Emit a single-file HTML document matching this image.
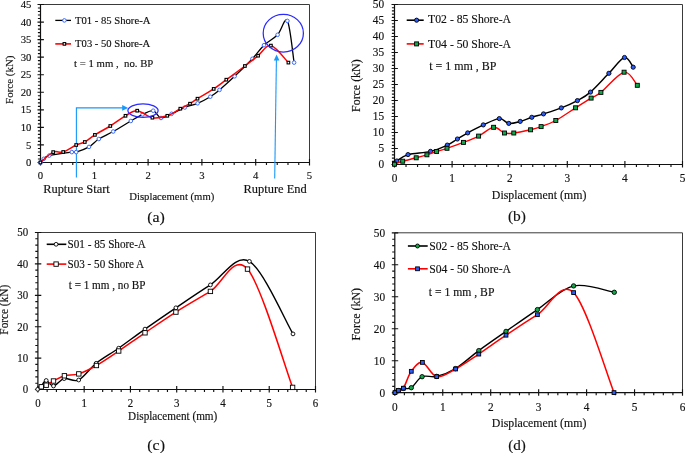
<!DOCTYPE html>
<html><head><meta charset="utf-8"><style>
html,body{margin:0;padding:0;background:#fff;}
body{width:685px;height:453px;overflow:hidden;}
svg{display:block;will-change:transform;}
text{font-family:"Liberation Serif", serif;fill:#111;stroke:#111;stroke-width:0.15px;}
</style></head><body>
<svg width="685" height="453" viewBox="0 0 685 453">
<rect width="685" height="453" fill="#fff"/>
<path d="M40.5,4.5 H309.5 V162.5" fill="none" stroke="#3a3a3a" stroke-width="1.0"/>
<path d="M40.5,4.5 V162.5 H309.5" fill="none" stroke="#111" stroke-width="1.2"/>
<path d="M37.5,162.5H43.9M37.9,158.99H40.5M37.9,155.48H40.5M37.9,151.97H40.5M37.9,148.46H40.5M37.5,144.94H43.9M37.9,141.43H40.5M37.9,137.92H40.5M37.9,134.41H40.5M37.9,130.9H40.5M37.5,127.39H43.9M37.9,123.88H40.5M37.9,120.37H40.5M37.9,116.86H40.5M37.9,113.34H40.5M37.5,109.83H43.9M37.9,106.32H40.5M37.9,102.81H40.5M37.9,99.3H40.5M37.9,95.79H40.5M37.5,92.28H43.9M37.9,88.77H40.5M37.9,85.26H40.5M37.9,81.74H40.5M37.9,78.23H40.5M37.5,74.72H43.9M37.9,71.21H40.5M37.9,67.7H40.5M37.9,64.19H40.5M37.9,60.68H40.5M37.5,57.17H43.9M37.9,53.66H40.5M37.9,50.14H40.5M37.9,46.63H40.5M37.9,43.12H40.5M37.5,39.61H43.9M37.9,36.1H40.5M37.9,32.59H40.5M37.9,29.08H40.5M37.9,25.57H40.5M37.5,22.06H43.9M37.9,18.54H40.5M37.9,15.03H40.5M37.9,11.52H40.5M37.9,8.01H40.5M37.5,4.5H43.9M40.5,159.1V165.5M51.26,162.5V165.1M62.02,162.5V165.1M72.78,162.5V165.1M83.54,162.5V165.1M94.3,159.1V165.5M105.06,162.5V165.1M115.82,162.5V165.1M126.58,162.5V165.1M137.34,162.5V165.1M148.1,159.1V165.5M158.86,162.5V165.1M169.62,162.5V165.1M180.38,162.5V165.1M191.14,162.5V165.1M201.9,159.1V165.5M212.66,162.5V165.1M223.42,162.5V165.1M234.18,162.5V165.1M244.94,162.5V165.1M255.7,159.1V165.5M266.46,162.5V165.1M277.22,162.5V165.1M287.98,162.5V165.1M298.74,162.5V165.1M309.5,159.1V165.5" stroke="#111" stroke-width="1.15" fill="none"/>
<text transform="translate(31.4,166.08) scale(1,1.06)" font-size="10.7" text-anchor="end">0</text>
<text transform="translate(31.4,148.52) scale(1,1.06)" font-size="10.7" text-anchor="end">5</text>
<text transform="translate(31.4,130.97) scale(1,1.06)" font-size="10.7" text-anchor="end">10</text>
<text transform="translate(31.4,113.41) scale(1,1.06)" font-size="10.7" text-anchor="end">15</text>
<text transform="translate(31.4,95.85) scale(1,1.06)" font-size="10.7" text-anchor="end">20</text>
<text transform="translate(31.4,78.3) scale(1,1.06)" font-size="10.7" text-anchor="end">25</text>
<text transform="translate(31.4,60.74) scale(1,1.06)" font-size="10.7" text-anchor="end">30</text>
<text transform="translate(31.4,43.19) scale(1,1.06)" font-size="10.7" text-anchor="end">35</text>
<text transform="translate(31.4,25.63) scale(1,1.06)" font-size="10.7" text-anchor="end">40</text>
<text transform="translate(31.4,8.08) scale(1,1.06)" font-size="10.7" text-anchor="end">45</text>
<text transform="translate(40.5,178.58) scale(1,1.06)" font-size="10.7" text-anchor="middle">0</text>
<text transform="translate(94.3,178.58) scale(1,1.06)" font-size="10.7" text-anchor="middle">1</text>
<text transform="translate(148.1,178.58) scale(1,1.06)" font-size="10.7" text-anchor="middle">2</text>
<text transform="translate(201.9,178.58) scale(1,1.06)" font-size="10.7" text-anchor="middle">3</text>
<text transform="translate(255.7,178.58) scale(1,1.06)" font-size="10.7" text-anchor="middle">4</text>
<text transform="translate(309.5,178.58) scale(1,1.06)" font-size="10.7" text-anchor="middle">5</text>
<text transform="translate(129.29,199.8) scale(1,1)" font-size="10.66">Displacement (mm)</text>
<text transform="translate(13.4,103.92) rotate(-90) scale(1,1)" font-size="10.96">Force (kN)</text>
<text transform="translate(147.2,221.5) scale(1,0.93)" font-size="15.95">(a)</text>
<text transform="translate(43.14,193.4) scale(1,1)" font-size="12.45">Rupture Start</text>
<text transform="translate(243.54,193.4) scale(1,1)" font-size="12.44">Rupture End</text>
<path d="M76.4,177.6 V107.9 H123" fill="none" stroke="#1898FA" stroke-width="1.1"/>
<path d="M128.2,107.9 L122.2,105.1 L122.2,110.7 Z" fill="#1898FA"/>
<path d="M274.7,178.4 L276.4,60" fill="none" stroke="#1898FA" stroke-width="1.1"/>
<path d="M276.6,54.5 L273.8,60.4 L279.4,60.4 Z" fill="#1898FA"/>
<path d="M40.4,162.5 C40.97,161.88 42.33,159.95 43.8,158.8 C45.27,157.65 44.53,156.72 49.2,155.6 C53.87,154.48 67.3,152.68 71.8,152.1 C76.3,151.52 73.33,152.97 76.2,152.1 C79.07,151.23 85.23,149.08 89,146.9 C92.77,144.72 94.77,141.57 98.8,139 C102.83,136.43 107.87,134.5 113.2,131.5 C118.53,128.5 125.88,123.85 130.8,121 C135.72,118.15 138.97,116.12 142.7,114.4 C146.43,112.68 150.15,110.1 153.2,110.7 C156.25,111.3 157.93,117.48 161,118 C164.07,118.52 167.63,115.55 171.6,113.8 C175.57,112.05 180.47,109.25 184.8,107.5 C189.13,105.75 193.35,105.1 197.6,103.3 C201.85,101.5 206.65,98.93 210.3,96.7 C213.95,94.47 215.45,93.3 219.5,89.9 C223.55,86.5 229.12,81.48 234.6,76.3 C240.08,71.12 247.5,63.98 252.4,58.8 C257.3,53.62 259.8,49.2 264,45.2 C268.2,41.2 273.7,38.85 277.6,34.8 C281.5,30.75 284.65,16.27 287.4,20.9 C290.15,25.53 292.98,55.65 294.1,62.6" fill="none" stroke="#000" stroke-width="1.3" stroke-linejoin="round"/>
<g fill="#fff" stroke="#3A6BFF" stroke-width="1"><circle cx="40.4" cy="162.5" r="1.8"/><circle cx="43.8" cy="158.8" r="1.8"/><circle cx="49.2" cy="155.6" r="1.8"/><circle cx="71.8" cy="152.1" r="1.8"/><circle cx="76.2" cy="152.1" r="1.8"/><circle cx="89" cy="146.9" r="1.8"/><circle cx="98.8" cy="139" r="1.8"/><circle cx="113.2" cy="131.5" r="1.8"/><circle cx="130.8" cy="121" r="1.8"/><circle cx="142.7" cy="114.4" r="1.8"/><circle cx="153.2" cy="110.7" r="1.8"/><circle cx="161" cy="118" r="1.8"/><circle cx="171.6" cy="113.8" r="1.8"/><circle cx="184.8" cy="107.5" r="1.8"/><circle cx="197.6" cy="103.3" r="1.8"/><circle cx="210.3" cy="96.7" r="1.8"/><circle cx="219.5" cy="89.9" r="1.8"/><circle cx="234.6" cy="76.3" r="1.8"/><circle cx="252.4" cy="58.8" r="1.8"/><circle cx="264" cy="45.2" r="1.8"/><circle cx="277.6" cy="34.8" r="1.8"/><circle cx="287.4" cy="20.9" r="1.8"/><circle cx="294.1" cy="62.6" r="1.8"/></g>
<path d="M40.4,162.5 C42.53,160.77 49.4,153.85 53.2,152.1 C57,150.35 59.37,153.18 63.2,152 C67.03,150.82 72.6,146.67 76.2,145 C79.8,143.33 81.68,143.68 84.8,142 C87.92,140.32 90.65,137.57 94.9,134.9 C99.15,132.23 105.2,129.18 110.3,126 C115.4,122.82 121.02,118.35 125.5,115.8 C129.98,113.25 132.72,110.38 137.2,110.7 C141.68,111.02 147.38,116.85 152.4,117.7 C157.42,118.55 162.65,117.3 167.3,115.8 C171.95,114.3 176.52,110.72 180.3,108.7 C184.08,106.68 187.13,105.37 190,103.7 C192.87,102.03 193.55,101.17 197.5,98.7 C201.45,96.23 208.9,92.07 213.7,88.9 C218.5,85.73 221.1,83.52 226.3,79.7 C231.5,75.88 239.6,70 244.9,66 C250.2,62 253.77,59.1 258.1,55.7 C262.43,52.3 265.85,44.45 270.9,45.6 C275.95,46.75 285.48,59.77 288.4,62.6" fill="none" stroke="#FF0000" stroke-width="1.5" stroke-linejoin="round"/>
<g fill="#fff" stroke="#000" stroke-width="1.1"><rect x="39.1" y="161.2" width="2.6" height="2.6"/><rect x="51.9" y="150.8" width="2.6" height="2.6"/><rect x="61.9" y="150.7" width="2.6" height="2.6"/><rect x="74.9" y="143.7" width="2.6" height="2.6"/><rect x="83.5" y="140.7" width="2.6" height="2.6"/><rect x="93.6" y="133.6" width="2.6" height="2.6"/><rect x="109" y="124.7" width="2.6" height="2.6"/><rect x="124.2" y="114.5" width="2.6" height="2.6"/><rect x="135.9" y="109.4" width="2.6" height="2.6"/><rect x="151.1" y="116.4" width="2.6" height="2.6"/><rect x="166" y="114.5" width="2.6" height="2.6"/><rect x="179" y="107.4" width="2.6" height="2.6"/><rect x="188.7" y="102.4" width="2.6" height="2.6"/><rect x="196.2" y="97.4" width="2.6" height="2.6"/><rect x="212.4" y="87.6" width="2.6" height="2.6"/><rect x="225" y="78.4" width="2.6" height="2.6"/><rect x="243.6" y="64.7" width="2.6" height="2.6"/><rect x="256.8" y="54.4" width="2.6" height="2.6"/><rect x="269.6" y="44.3" width="2.6" height="2.6"/><rect x="287.1" y="61.3" width="2.6" height="2.6"/></g>
<ellipse cx="143" cy="110.6" rx="15.1" ry="6.7" fill="none" stroke="#2A2AFF" stroke-width="1.25"/>
<ellipse cx="283.3" cy="33.2" rx="20.1" ry="18.9" fill="none" stroke="#2A2AFF" stroke-width="1.25"/>
<path d="M55.3,20.4H71" stroke="#000" stroke-width="1.3"/>
<g fill="#fff" stroke="#3A6BFF" stroke-width="1"><circle cx="64.4" cy="20.4" r="1.8"/></g>
<text transform="translate(74.91,23.9) scale(1,1)" font-size="10.66">T01 - 85 Shore-A</text>
<path d="M55.3,43.9H71" stroke="#FF0000" stroke-width="1.6"/>
<g fill="#fff" stroke="#000" stroke-width="1.1"><rect x="63.1" y="42.6" width="2.6" height="2.6"/></g>
<text transform="translate(75.11,47.3) scale(1,1)" font-size="10.6">T03 - 50 Shore-A</text>
<text transform="translate(74.09,66.8) scale(1,1)" font-size="10.76">t = 1 mm ,&#160; no. BP</text>
<path d="M394.5,4.5 H682.5 V164.5" fill="none" stroke="#3a3a3a" stroke-width="1.0"/>
<path d="M394.5,4.5 V164.5 H682.5" fill="none" stroke="#111" stroke-width="1.2"/>
<path d="M391.5,164.5H397.9M391.9,161.3H394.5M391.9,158.1H394.5M391.9,154.9H394.5M391.9,151.7H394.5M391.5,148.5H397.9M391.9,145.3H394.5M391.9,142.1H394.5M391.9,138.9H394.5M391.9,135.7H394.5M391.5,132.5H397.9M391.9,129.3H394.5M391.9,126.1H394.5M391.9,122.9H394.5M391.9,119.7H394.5M391.5,116.5H397.9M391.9,113.3H394.5M391.9,110.1H394.5M391.9,106.9H394.5M391.9,103.7H394.5M391.5,100.5H397.9M391.9,97.3H394.5M391.9,94.1H394.5M391.9,90.9H394.5M391.9,87.7H394.5M391.5,84.5H397.9M391.9,81.3H394.5M391.9,78.1H394.5M391.9,74.9H394.5M391.9,71.7H394.5M391.5,68.5H397.9M391.9,65.3H394.5M391.9,62.1H394.5M391.9,58.9H394.5M391.9,55.7H394.5M391.5,52.5H397.9M391.9,49.3H394.5M391.9,46.1H394.5M391.9,42.9H394.5M391.9,39.7H394.5M391.5,36.5H397.9M391.9,33.3H394.5M391.9,30.1H394.5M391.9,26.9H394.5M391.9,23.7H394.5M391.5,20.5H397.9M391.9,17.3H394.5M391.9,14.1H394.5M391.9,10.9H394.5M391.9,7.7H394.5M391.5,4.5H397.9M394.5,161.1V167.5M406.02,164.5V167.1M417.54,164.5V167.1M429.06,164.5V167.1M440.58,164.5V167.1M452.1,161.1V167.5M463.62,164.5V167.1M475.14,164.5V167.1M486.66,164.5V167.1M498.18,164.5V167.1M509.7,161.1V167.5M521.22,164.5V167.1M532.74,164.5V167.1M544.26,164.5V167.1M555.78,164.5V167.1M567.3,161.1V167.5M578.82,164.5V167.1M590.34,164.5V167.1M601.86,164.5V167.1M613.38,164.5V167.1M624.9,161.1V167.5M636.42,164.5V167.1M647.94,164.5V167.1M659.46,164.5V167.1M670.98,164.5V167.1M682.5,161.1V167.5" stroke="#111" stroke-width="1.15" fill="none"/>
<text transform="translate(384.1,168.36) scale(1,1.08)" font-size="11.3" text-anchor="end">0</text>
<text transform="translate(384.1,152.36) scale(1,1.08)" font-size="11.3" text-anchor="end">5</text>
<text transform="translate(384.1,136.36) scale(1,1.08)" font-size="11.3" text-anchor="end">10</text>
<text transform="translate(384.1,120.36) scale(1,1.08)" font-size="11.3" text-anchor="end">15</text>
<text transform="translate(384.1,104.36) scale(1,1.08)" font-size="11.3" text-anchor="end">20</text>
<text transform="translate(384.1,88.36) scale(1,1.08)" font-size="11.3" text-anchor="end">25</text>
<text transform="translate(384.1,72.36) scale(1,1.08)" font-size="11.3" text-anchor="end">30</text>
<text transform="translate(384.1,56.36) scale(1,1.08)" font-size="11.3" text-anchor="end">35</text>
<text transform="translate(384.1,40.36) scale(1,1.08)" font-size="11.3" text-anchor="end">40</text>
<text transform="translate(384.1,24.36) scale(1,1.08)" font-size="11.3" text-anchor="end">45</text>
<text transform="translate(384.1,8.36) scale(1,1.08)" font-size="11.3" text-anchor="end">50</text>
<text transform="translate(394.5,182.06) scale(1,1.08)" font-size="11.3" text-anchor="middle">0</text>
<text transform="translate(452.1,182.06) scale(1,1.08)" font-size="11.3" text-anchor="middle">1</text>
<text transform="translate(509.7,182.06) scale(1,1.08)" font-size="11.3" text-anchor="middle">2</text>
<text transform="translate(567.3,182.06) scale(1,1.08)" font-size="11.3" text-anchor="middle">3</text>
<text transform="translate(624.9,182.06) scale(1,1.08)" font-size="11.3" text-anchor="middle">4</text>
<text transform="translate(682.5,182.06) scale(1,1.08)" font-size="11.3" text-anchor="middle">5</text>
<text transform="translate(491.86,198.8) scale(1,1.04)" font-size="11.87">Displacement (mm)</text>
<text transform="translate(359.6,111.94) rotate(-90) scale(1,1.04)" font-size="11.91">Force (kN)</text>
<text transform="translate(507.92,221.1) scale(1,0.93)" font-size="15.49">(b)</text>
<path d="M394.5,164.2 C394.9,163.67 394.65,162.6 396.9,161 C399.15,159.4 402.4,156.2 408,154.6 C413.6,153 423.95,152.98 430.5,151.4 C437.05,149.82 442.82,147.17 447.3,145.1 C451.78,143.03 454,141.03 457.4,139 C460.8,136.97 463.38,135.25 467.7,132.9 C472.02,130.55 478.03,127.28 483.3,124.9 C488.57,122.52 495.05,118.85 499.3,118.6 C503.55,118.35 505.32,122.93 508.8,123.4 C512.28,123.87 516.37,122.42 520.2,121.4 C524.03,120.38 527.92,118.55 531.8,117.3 C535.68,116.05 538.58,115.47 543.5,113.9 C548.42,112.33 555.65,110.12 561.3,107.9 C566.95,105.68 572.53,103.23 577.4,100.6 C582.27,97.97 585.25,96.65 590.5,92.1 C595.75,87.55 603.23,79.07 608.9,73.3 C614.57,67.53 620.45,58.52 624.5,57.5 C628.55,56.48 631.75,65.58 633.2,67.2" fill="none" stroke="#000" stroke-width="1.45" stroke-linejoin="round"/>
<g fill="#2A5CFF" stroke="#000" stroke-width="0.9"><circle cx="394.5" cy="164.2" r="2.1"/><circle cx="396.9" cy="161" r="2.1"/><circle cx="408" cy="154.6" r="2.1"/><circle cx="430.5" cy="151.4" r="2.1"/><circle cx="447.3" cy="145.1" r="2.1"/><circle cx="457.4" cy="139" r="2.1"/><circle cx="467.7" cy="132.9" r="2.1"/><circle cx="483.3" cy="124.9" r="2.1"/><circle cx="499.3" cy="118.6" r="2.1"/><circle cx="508.8" cy="123.4" r="2.1"/><circle cx="520.2" cy="121.4" r="2.1"/><circle cx="531.8" cy="117.3" r="2.1"/><circle cx="543.5" cy="113.9" r="2.1"/><circle cx="561.3" cy="107.9" r="2.1"/><circle cx="577.4" cy="100.6" r="2.1"/><circle cx="590.5" cy="92.1" r="2.1"/><circle cx="608.9" cy="73.3" r="2.1"/><circle cx="624.5" cy="57.5" r="2.1"/><circle cx="633.2" cy="67.2" r="2.1"/></g>
<path d="M394.5,164.2 C395.87,163.7 399.08,162.27 402.7,161.2 C406.32,160.13 412.17,158.87 416.2,157.8 C420.23,156.73 423.5,155.85 426.9,154.8 C430.3,153.75 433.25,152.58 436.6,151.5 C439.95,150.42 442.52,149.82 447,148.3 C451.48,146.78 458.23,144.43 463.5,142.4 C468.77,140.37 473.58,138.62 478.6,136.1 C483.62,133.58 489.28,127.82 493.6,127.3 C497.92,126.78 501.13,132.05 504.5,133 C507.87,133.95 509.45,133.53 513.8,133 C518.15,132.47 526.05,130.87 530.6,129.8 C535.15,128.73 536.9,128.15 541.1,126.6 C545.3,125.05 550.05,123.63 555.8,120.5 C561.55,117.37 569.72,111.53 575.6,107.8 C581.48,104.07 586.88,100.67 591.1,98.1 C595.32,95.53 595.4,96.72 600.9,92.4 C606.4,88.08 618.03,73.38 624.1,72.2 C630.17,71.02 635.1,83.12 637.3,85.3" fill="none" stroke="#FF0000" stroke-width="1.4" stroke-linejoin="round"/>
<g fill="#0DAA48" stroke="#000" stroke-width="0.9"><rect x="392.5" y="162.2" width="4" height="4"/><rect x="400.7" y="159.2" width="4" height="4"/><rect x="414.2" y="155.8" width="4" height="4"/><rect x="424.9" y="152.8" width="4" height="4"/><rect x="434.6" y="149.5" width="4" height="4"/><rect x="445" y="146.3" width="4" height="4"/><rect x="461.5" y="140.4" width="4" height="4"/><rect x="476.6" y="134.1" width="4" height="4"/><rect x="491.6" y="125.3" width="4" height="4"/><rect x="502.5" y="131" width="4" height="4"/><rect x="511.8" y="131" width="4" height="4"/><rect x="528.6" y="127.8" width="4" height="4"/><rect x="539.1" y="124.6" width="4" height="4"/><rect x="553.8" y="118.5" width="4" height="4"/><rect x="573.6" y="105.8" width="4" height="4"/><rect x="589.1" y="96.1" width="4" height="4"/><rect x="598.9" y="90.4" width="4" height="4"/><rect x="622.1" y="70.2" width="4" height="4"/><rect x="635.3" y="83.3" width="4" height="4"/></g>
<path d="M406.7,20.2H423.7" stroke="#000" stroke-width="1.6"/>
<g fill="#2A5CFF" stroke="#000" stroke-width="0.9"><circle cx="416.6" cy="20.2" r="2.1"/></g>
<text transform="translate(428.09,23.4) scale(1,1.04)" font-size="11.73">T02 - 85 Shore-A</text>
<path d="M406.7,43.9H423.7" stroke="#FF0000" stroke-width="1.6"/>
<g fill="#0DAA48" stroke="#000" stroke-width="0.9"><rect x="414.6" y="41.9" width="4" height="4"/></g>
<text transform="translate(428.09,47.8) scale(1,1.04)" font-size="11.73">T04 - 50 Shore-A</text>
<text transform="translate(429.18,70) scale(1,1.04)" font-size="11.97">t = 1 mm , BP</text>
<path d="M37.9,232.5 H315.5 V389.5" fill="none" stroke="#3a3a3a" stroke-width="1.0"/>
<path d="M37.9,232.5 V389.5 H315.5" fill="none" stroke="#111" stroke-width="1.2"/>
<path d="M34.9,389.5H41.3M35.3,383.22H37.9M35.3,376.94H37.9M35.3,370.66H37.9M35.3,364.38H37.9M34.9,358.1H41.3M35.3,351.82H37.9M35.3,345.54H37.9M35.3,339.26H37.9M35.3,332.98H37.9M34.9,326.7H41.3M35.3,320.42H37.9M35.3,314.14H37.9M35.3,307.86H37.9M35.3,301.58H37.9M34.9,295.3H41.3M35.3,289.02H37.9M35.3,282.74H37.9M35.3,276.46H37.9M35.3,270.18H37.9M34.9,263.9H41.3M35.3,257.62H37.9M35.3,251.34H37.9M35.3,245.06H37.9M35.3,238.78H37.9M34.9,232.5H41.3M37.9,386.1V392.5M47.15,389.5V392.1M56.41,389.5V392.1M65.66,389.5V392.1M74.91,389.5V392.1M84.17,386.1V392.5M93.42,389.5V392.1M102.67,389.5V392.1M111.93,389.5V392.1M121.18,389.5V392.1M130.43,386.1V392.5M139.69,389.5V392.1M148.94,389.5V392.1M158.19,389.5V392.1M167.45,389.5V392.1M176.7,386.1V392.5M185.95,389.5V392.1M195.21,389.5V392.1M204.46,389.5V392.1M213.71,389.5V392.1M222.97,386.1V392.5M232.22,389.5V392.1M241.47,389.5V392.1M250.73,389.5V392.1M259.98,389.5V392.1M269.23,386.1V392.5M278.49,389.5V392.1M287.74,389.5V392.1M296.99,389.5V392.1M306.25,389.5V392.1M315.5,386.1V392.5" stroke="#111" stroke-width="1.15" fill="none"/>
<text transform="translate(28.1,393.37) scale(1,1.12)" font-size="10.9" text-anchor="end">0</text>
<text transform="translate(28.1,361.97) scale(1,1.12)" font-size="10.9" text-anchor="end">10</text>
<text transform="translate(28.1,330.57) scale(1,1.12)" font-size="10.9" text-anchor="end">20</text>
<text transform="translate(28.1,299.17) scale(1,1.12)" font-size="10.9" text-anchor="end">30</text>
<text transform="translate(28.1,267.77) scale(1,1.12)" font-size="10.9" text-anchor="end">40</text>
<text transform="translate(28.1,236.37) scale(1,1.12)" font-size="10.9" text-anchor="end">50</text>
<text transform="translate(37.9,406.67) scale(1,1.12)" font-size="10.9" text-anchor="middle">0</text>
<text transform="translate(84.17,406.67) scale(1,1.12)" font-size="10.9" text-anchor="middle">1</text>
<text transform="translate(130.43,406.67) scale(1,1.12)" font-size="10.9" text-anchor="middle">2</text>
<text transform="translate(176.7,406.67) scale(1,1.12)" font-size="10.9" text-anchor="middle">3</text>
<text transform="translate(222.97,406.67) scale(1,1.12)" font-size="10.9" text-anchor="middle">4</text>
<text transform="translate(269.23,406.67) scale(1,1.12)" font-size="10.9" text-anchor="middle">5</text>
<text transform="translate(315.5,406.67) scale(1,1.12)" font-size="10.9" text-anchor="middle">6</text>
<text transform="translate(128.08,420.1) scale(1,1.04)" font-size="11.21">Displacement (mm)</text>
<text transform="translate(8,334.63) rotate(-90) scale(1,1.04)" font-size="11.28">Force (kN)</text>
<text transform="translate(147.3,450) scale(1,0.93)" font-size="15.95">(c)</text>
<path d="M37.7,389.3 C38.25,388.83 39.58,387.97 41,386.5 C42.42,385.03 44.12,380.58 46.2,380.5 C48.28,380.42 50.5,386.32 53.5,386 C56.5,385.68 60,379.6 64.2,378.6 C68.4,377.6 73.37,382.55 78.7,380 C84.03,377.45 89.53,368.6 96.2,363.3 C102.87,358 110.57,353.9 118.7,348.2 C126.83,342.5 135.47,335.83 145,329.1 C154.53,322.37 165,315.17 175.9,307.8 C186.8,300.43 198.15,292.63 210.4,284.9 C222.65,277.17 235.63,253.23 249.4,261.4 C263.17,269.57 285.73,321.82 293,333.9" fill="none" stroke="#000" stroke-width="1.4" stroke-linejoin="round"/>
<g fill="#fff" stroke="#000" stroke-width="0.9"><circle cx="37.7" cy="389.3" r="1.9"/><circle cx="41" cy="386.5" r="1.9"/><circle cx="46.2" cy="380.5" r="1.9"/><circle cx="53.5" cy="386" r="1.9"/><circle cx="64.2" cy="378.6" r="1.9"/><circle cx="78.7" cy="380" r="1.9"/><circle cx="96.2" cy="363.3" r="1.9"/><circle cx="118.7" cy="348.2" r="1.9"/><circle cx="145" cy="329.1" r="1.9"/><circle cx="175.9" cy="307.8" r="1.9"/><circle cx="210.4" cy="284.9" r="1.9"/><circle cx="249.4" cy="261.4" r="1.9"/><circle cx="293" cy="333.9" r="1.9"/></g>
<path d="M41.3,386.8 C42.12,386.53 44.17,386.17 46.2,385.2 C48.23,384.23 50.47,382.57 53.5,381 C56.53,379.43 60.18,376.98 64.4,375.8 C68.62,374.62 73.47,375.62 78.8,373.9 C84.13,372.18 89.75,369.32 96.4,365.5 C103.05,361.68 110.6,356.45 118.7,351 C126.8,345.55 135.47,339.28 145,332.8 C154.53,326.32 165,319 175.9,312.1 C186.8,305.2 198.47,298.57 210.4,291.4 C222.33,284.23 233.8,253.1 247.5,269.1 C261.2,285.1 285.08,367.68 292.6,387.4" fill="none" stroke="#FF0000" stroke-width="1.5" stroke-linejoin="round"/>
<g fill="#fff" stroke="#000" stroke-width="0.9"><rect x="39.1" y="384.6" width="4.4" height="4.4"/><rect x="44" y="383" width="4.4" height="4.4"/><rect x="51.3" y="378.8" width="4.4" height="4.4"/><rect x="62.2" y="373.6" width="4.4" height="4.4"/><rect x="76.6" y="371.7" width="4.4" height="4.4"/><rect x="94.2" y="363.3" width="4.4" height="4.4"/><rect x="116.5" y="348.8" width="4.4" height="4.4"/><rect x="142.8" y="330.6" width="4.4" height="4.4"/><rect x="173.7" y="309.9" width="4.4" height="4.4"/><rect x="208.2" y="289.2" width="4.4" height="4.4"/><rect x="245.3" y="266.9" width="4.4" height="4.4"/><rect x="290.4" y="385.2" width="4.4" height="4.4"/></g>
<path d="M46.7,244.3H66.3" stroke="#000" stroke-width="1.6"/>
<g fill="#fff" stroke="#000" stroke-width="0.9"><circle cx="56.1" cy="244.3" r="1.9"/></g>
<text transform="translate(67.55,248.2) scale(1,1.04)" font-size="11.16">S01 - 85 Shore-A</text>
<path d="M46.7,264.1H66.3" stroke="#FF0000" stroke-width="1.6"/>
<g fill="#fff" stroke="#000" stroke-width="0.9"><rect x="53.9" y="261.9" width="4.4" height="4.4"/></g>
<text transform="translate(67.56,268.2) scale(1,1.04)" font-size="11.11">S03 - 50 Shore A</text>
<text transform="translate(68.79,289.1) scale(1,1.04)" font-size="11.17">t = 1 mm , no BP</text>
<path d="M394.8,232.8 H682.5 V392.7" fill="none" stroke="#3a3a3a" stroke-width="1.0"/>
<path d="M394.8,232.8 V392.7 H682.5" fill="none" stroke="#111" stroke-width="1.2"/>
<path d="M391.8,392.7H398.2M392.2,386.3H394.8M392.2,379.91H394.8M392.2,373.51H394.8M392.2,367.12H394.8M391.8,360.72H398.2M392.2,354.32H394.8M392.2,347.93H394.8M392.2,341.53H394.8M392.2,335.14H394.8M391.8,328.74H398.2M392.2,322.34H394.8M392.2,315.95H394.8M392.2,309.55H394.8M392.2,303.16H394.8M391.8,296.76H398.2M392.2,290.36H394.8M392.2,283.97H394.8M392.2,277.57H394.8M392.2,271.18H394.8M391.8,264.78H398.2M392.2,258.38H394.8M392.2,251.99H394.8M392.2,245.59H394.8M392.2,239.2H394.8M391.8,232.8H398.2M394.8,389.3V395.7M404.39,392.7V395.3M413.98,392.7V395.3M423.57,392.7V395.3M433.16,392.7V395.3M442.75,389.3V395.7M452.34,392.7V395.3M461.93,392.7V395.3M471.52,392.7V395.3M481.11,392.7V395.3M490.7,389.3V395.7M500.29,392.7V395.3M509.88,392.7V395.3M519.47,392.7V395.3M529.06,392.7V395.3M538.65,389.3V395.7M548.24,392.7V395.3M557.83,392.7V395.3M567.42,392.7V395.3M577.01,392.7V395.3M586.6,389.3V395.7M596.19,392.7V395.3M605.78,392.7V395.3M615.37,392.7V395.3M624.96,392.7V395.3M634.55,389.3V395.7M644.14,392.7V395.3M653.73,392.7V395.3M663.32,392.7V395.3M672.91,392.7V395.3M682.5,389.3V395.7" stroke="#111" stroke-width="1.15" fill="none"/>
<text transform="translate(385.1,396.56) scale(1,1.08)" font-size="11.3" text-anchor="end">0</text>
<text transform="translate(385.1,364.58) scale(1,1.08)" font-size="11.3" text-anchor="end">10</text>
<text transform="translate(385.1,332.6) scale(1,1.08)" font-size="11.3" text-anchor="end">20</text>
<text transform="translate(385.1,300.62) scale(1,1.08)" font-size="11.3" text-anchor="end">30</text>
<text transform="translate(385.1,268.64) scale(1,1.08)" font-size="11.3" text-anchor="end">40</text>
<text transform="translate(385.1,236.66) scale(1,1.08)" font-size="11.3" text-anchor="end">50</text>
<text transform="translate(394.8,410.56) scale(1,1.08)" font-size="11.3" text-anchor="middle">0</text>
<text transform="translate(442.75,410.56) scale(1,1.08)" font-size="11.3" text-anchor="middle">1</text>
<text transform="translate(490.7,410.56) scale(1,1.08)" font-size="11.3" text-anchor="middle">2</text>
<text transform="translate(538.65,410.56) scale(1,1.08)" font-size="11.3" text-anchor="middle">3</text>
<text transform="translate(586.6,410.56) scale(1,1.08)" font-size="11.3" text-anchor="middle">4</text>
<text transform="translate(634.55,410.56) scale(1,1.08)" font-size="11.3" text-anchor="middle">5</text>
<text transform="translate(682.5,410.56) scale(1,1.08)" font-size="11.3" text-anchor="middle">6</text>
<text transform="translate(491.86,427.3) scale(1,1.04)" font-size="11.87">Displacement (mm)</text>
<text transform="translate(360.1,340.54) rotate(-90) scale(1,1.04)" font-size="11.91">Force (kN)</text>
<text transform="translate(508.14,450) scale(1,0.93)" font-size="15.12">(d)</text>
<path d="M395,392.6 C395.57,392.27 397,391.3 398.4,390.6 C399.8,389.9 401.25,388.88 403.4,388.4 C405.55,387.92 408.18,389.65 411.3,387.7 C414.42,385.75 417.87,378.58 422.1,376.7 C426.33,374.82 431.12,377.75 436.7,376.4 C442.28,375.05 448.58,372.9 455.6,368.6 C462.62,364.3 470.4,356.8 478.8,350.6 C487.2,344.4 496.23,338.23 506,331.4 C515.77,324.57 526.13,317.18 537.4,309.6 C548.67,302.02 560.78,288.78 573.6,285.9 C586.42,283.02 607.52,291.23 614.3,292.3" fill="none" stroke="#000" stroke-width="1.4" stroke-linejoin="round"/>
<g fill="#0DAA48" stroke="#000" stroke-width="0.9"><circle cx="395" cy="392.6" r="2.2"/><circle cx="398.4" cy="390.6" r="2.2"/><circle cx="403.4" cy="388.4" r="2.2"/><circle cx="411.3" cy="387.7" r="2.2"/><circle cx="422.1" cy="376.7" r="2.2"/><circle cx="436.7" cy="376.4" r="2.2"/><circle cx="455.6" cy="368.6" r="2.2"/><circle cx="478.8" cy="350.6" r="2.2"/><circle cx="506" cy="331.4" r="2.2"/><circle cx="537.4" cy="309.6" r="2.2"/><circle cx="573.6" cy="285.9" r="2.2"/><circle cx="614.3" cy="292.3" r="2.2"/></g>
<path d="M395,392.6 C395.57,392.23 397,391.13 398.4,390.4 C399.8,389.67 401.25,391.38 403.4,388.2 C405.55,385.02 408.13,375.6 411.3,371.3 C414.47,367 418.17,361.52 422.4,362.4 C426.63,363.28 431.17,375.5 436.7,376.6 C442.23,377.7 448.58,372.75 455.6,369 C462.62,365.25 470.4,359.73 478.8,354.1 C487.2,348.47 496.23,341.77 506,335.2 C515.77,328.63 526.13,321.8 537.4,314.7 C548.67,307.6 560.83,279.62 573.6,292.6 C586.37,305.58 607.27,375.93 614,392.6" fill="none" stroke="#FF0000" stroke-width="1.5" stroke-linejoin="round"/>
<g fill="#2A5CFF" stroke="#000" stroke-width="0.9"><rect x="393.1" y="390.7" width="3.8" height="3.8"/><rect x="396.5" y="388.5" width="3.8" height="3.8"/><rect x="401.5" y="386.3" width="3.8" height="3.8"/><rect x="409.4" y="369.4" width="3.8" height="3.8"/><rect x="420.5" y="360.5" width="3.8" height="3.8"/><rect x="434.8" y="374.7" width="3.8" height="3.8"/><rect x="453.7" y="367.1" width="3.8" height="3.8"/><rect x="476.9" y="352.2" width="3.8" height="3.8"/><rect x="504.1" y="333.3" width="3.8" height="3.8"/><rect x="535.5" y="312.8" width="3.8" height="3.8"/><rect x="571.7" y="290.7" width="3.8" height="3.8"/><rect x="612.1" y="390.7" width="3.8" height="3.8"/></g>
<path d="M407.9,246H427.7" stroke="#000" stroke-width="1.6"/>
<g fill="#0DAA48" stroke="#000" stroke-width="0.9"><circle cx="417.5" cy="246" r="2"/></g>
<text transform="translate(429.22,250.1) scale(1,1.04)" font-size="11.66">S02 - 85 Shore-A</text>
<path d="M407.9,268.8H427.7" stroke="#FF0000" stroke-width="1.6"/>
<g fill="#2A5CFF" stroke="#000" stroke-width="0.9"><rect x="415.6" y="266.9" width="3.8" height="3.8"/></g>
<text transform="translate(429.22,272.9) scale(1,1.04)" font-size="11.66">S04 - 50 Shore-A</text>
<text transform="translate(428.79,296.1) scale(1,1.04)" font-size="11.69">t = 1 mm , BP</text>
</svg>
</body></html>
